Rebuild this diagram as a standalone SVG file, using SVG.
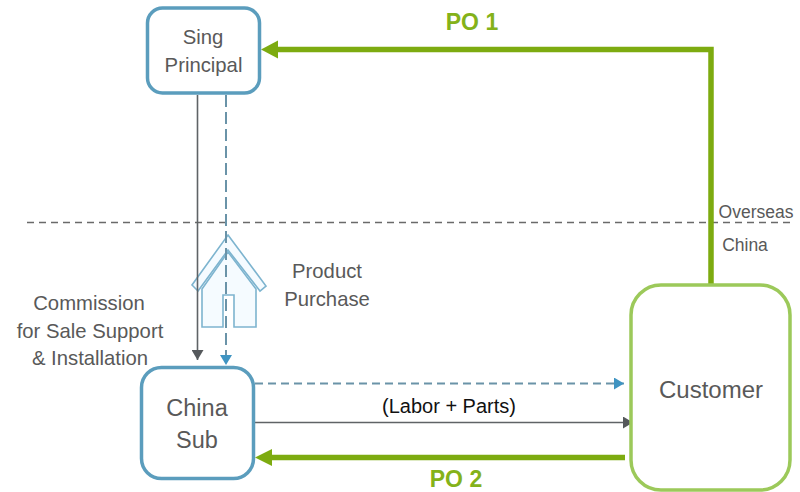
<svg xmlns="http://www.w3.org/2000/svg" width="800" height="492" viewBox="0 0 800 492">
<style>
text{font-family:"Liberation Sans",Arial,sans-serif;fill:#595959;text-anchor:middle}
.t18{font-size:20.300px}
.t21{font-size:23.500px}
.po{font-size:23px;font-weight:bold;fill:#84b21a}
.blue{fill:#fff;stroke:#5b9dbd;stroke-width:3.500}
.green{fill:#fff;stroke:#9cc95a;stroke-width:3.500}
.g{fill:none;stroke:#7dab10;stroke-width:5.500}
.d{fill:none;stroke:#5f6366;stroke-width:1.600}
.b{fill:none;stroke:#6a93a8;stroke-width:2;stroke-dasharray:8 5}
.lb{font-size:20px;fill:#111}
.h{fill:#f5fbff;stroke:#7db4cf;stroke-width:1.600}
.s{font-size:17.500px}
</style>
<defs>
<marker id="ad" markerUnits="userSpaceOnUse" markerWidth="11" markerHeight="12" refX="10" refY="6" orient="auto"><path d="M0 0L10 6L0 12Z" fill="#55595c"/></marker>
<marker id="ab" markerUnits="userSpaceOnUse" markerWidth="11" markerHeight="12" refX="10" refY="6" orient="auto"><path d="M0 0L10 6L0 12Z" fill="#3f94c2"/></marker>
</defs>
<g id="house">
<path class="h" d="M228 235L266 286L260 291L228 250L198 291L192 285Z"/>
<path class="h" d="M202 289V327H223V295H234V327H256V289L228 252Z"/>
</g>
<g id="connectors">
<path d="M27 222.500H795" fill="none" stroke="#6a6a6a" stroke-width="1.500" stroke-dasharray="7 5"/>
<path class="d" d="M197.500 95V360" marker-end="url(#ad)"/>
<path class="b" d="M226 95V365" style="stroke-dasharray:12 5" marker-end="url(#ab)"/>
<path class="b" d="M255 383.500H624" marker-end="url(#ab)"/>
<path class="d" d="M255 422.500H633" marker-end="url(#ad)"/>
<path d="M711 287V49.500H278" class="g"/>
<path d="M278 40.500L261 49.500L278 58.500Z" fill="#7dab10"/>
<path d="M625 457.500H272" class="g"/>
<path d="M272 449L255 457.500L272 466Z" fill="#7dab10"/>
</g>
<g id="sing-principal">
<rect class="blue" x="147.500" y="8" width="112" height="85" rx="15"/>
<text class="t18" x="203" y="44">Sing</text>
<text class="t18" x="203.500" y="72">Principal</text>
</g>
<g id="china-sub">
<rect class="blue" x="141.500" y="367.500" width="112" height="111" rx="20"/>
<text class="t21" x="197" y="416">China</text>
<text class="t21" x="197" y="448">Sub</text>
</g>
<g id="customer">
<rect class="green" x="631" y="285" width="159" height="205" rx="30"/>
<text class="t21" x="711" y="398" style="font-size:24px">Customer</text>
</g>
<g id="labels">
<text class="po" x="472" y="30">PO 1</text>
<text class="po" x="456" y="487">PO 2</text>
<text class="t18" x="327" y="278">Product</text>
<text class="t18" x="327" y="306">Purchase</text>
<text class="t18" x="89" y="310">Commission</text>
<text class="t18" x="90" y="338">for Sale Support</text>
<text class="t18" x="90" y="365">&amp; Installation</text>
<text class="lb" x="449" y="413">(Labor + Parts)</text>
<text class="s" x="756" y="218">Overseas</text>
<text class="s" x="745" y="251">China</text>
</g>
</svg>
